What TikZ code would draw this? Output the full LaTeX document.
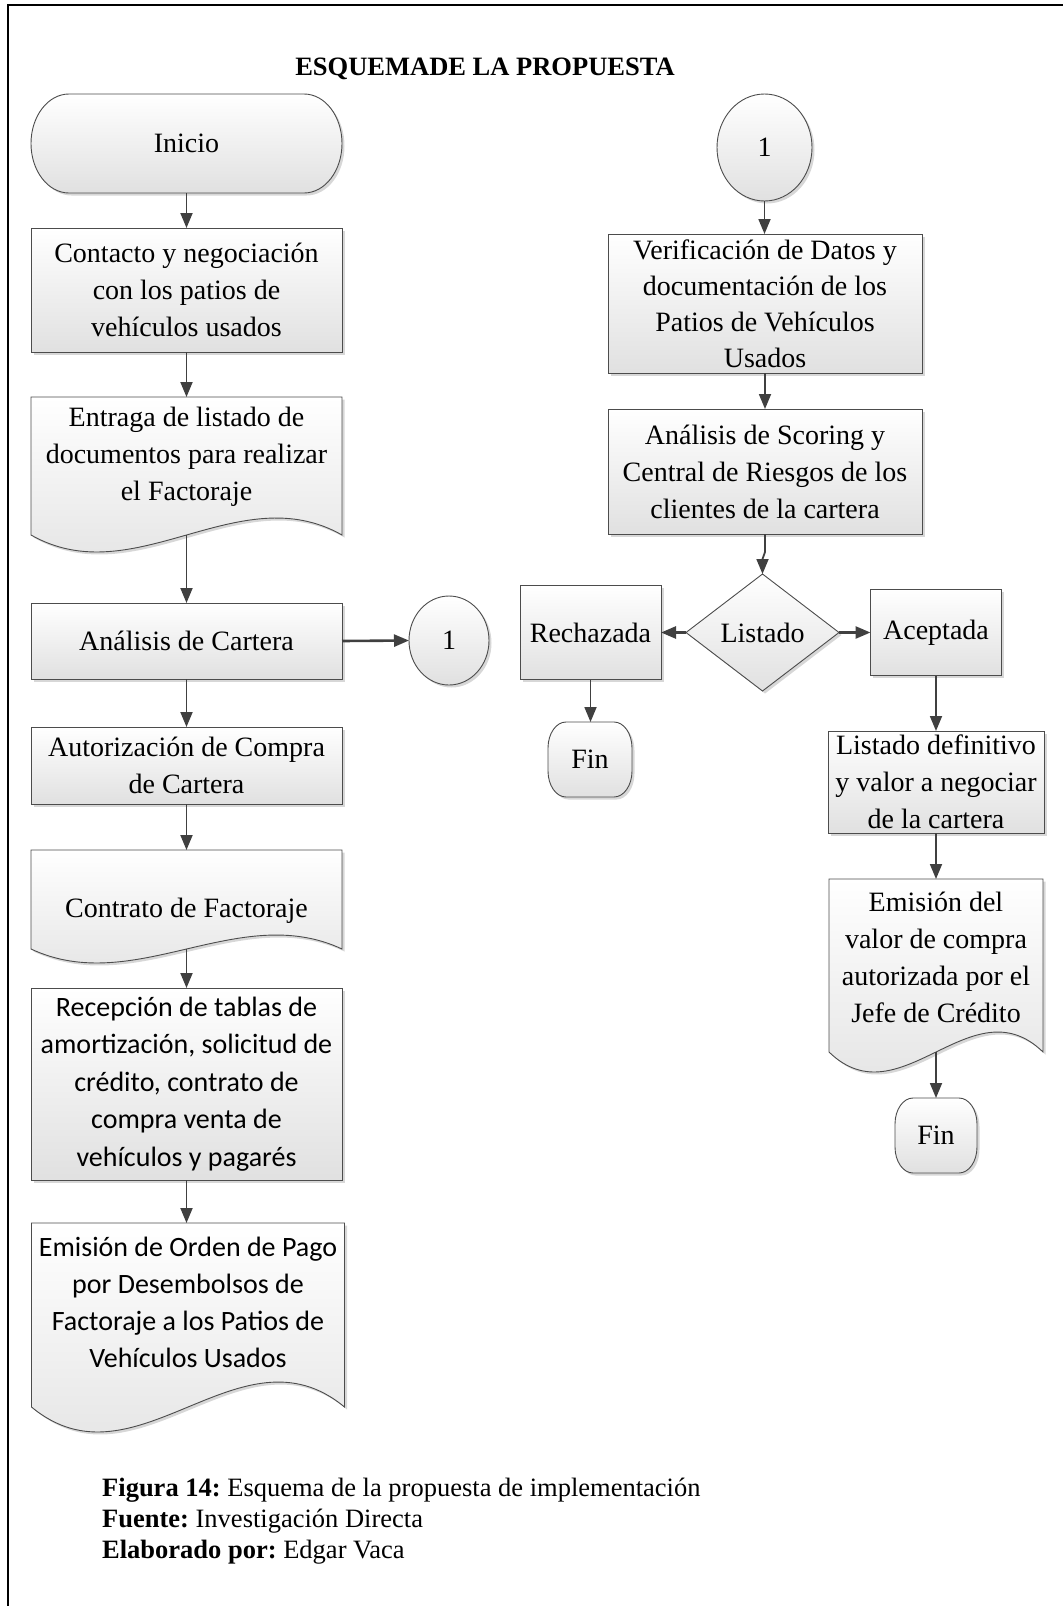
\documentclass[tikz,border=0pt]{standalone}
\usepackage{fontspec}
\setmainfont{Liberation Serif}
\newfontfamily\calfont{Carlito}
\usetikzlibrary{arrows.meta,shadows,calc,shapes.geometric}
\begin{document}
\begin{tikzpicture}[x=1pt,y=-1pt,
  shp/.style={draw=black!70, line width=0.9pt, top color=white, bottom color=black!12,
    drop shadow={shadow xshift=2.5pt, shadow yshift=-2.5pt, fill=black!35, opacity=0.45}},
  txt/.style={font=\fontsize{28}{37}\selectfont, align=center, inner sep=0pt, outer sep=0pt},
  caltxt/.style={font=\calfont\fontsize{28}{37.5}\selectfont},
  box/.style={shp, txt, rectangle},
  circ/.style={shp, txt, ellipse},
  hid/.style={txt, rectangle, draw=none},
  arr/.style={draw=black!75, line width=1.8pt, -{Triangle[length=15pt,width=12pt]}},
  arrb/.style={arr, line width=2.6pt},
  capf/.style={font=\frenchspacing\fontsize{26.5}{29}\selectfont, inner sep=0pt, anchor=base west}
]
\useasboundingbox (0,0) rectangle (1063,1606);
% frame
\draw[line width=2pt] (8,1606) -- (8,5) -- (1063,5);
% title
\node[font=\bfseries\fontsize{26.5}{30}\selectfont, inner sep=0pt, anchor=base] (title) at (485,75) {ESQUEMADE LA PROPUESTA};

% ---------- left column ----------
\path[shp] (69,94) -- (304,94) arc[start angle=-90,end angle=90,x radius=38,y radius=49.5]
  -- (69,193) arc[start angle=90,end angle=270,x radius=38,y radius=49.5] -- cycle;
\node[hid, minimum width=311pt, minimum height=99pt] (inicio) at (186.5,143.5) {Inicio};

\node[box, minimum width=311pt, minimum height=124pt] (contacto) at (186.5,290)
  {Contacto y negociación\\con los patios de\\vehículos usados};

\path[shp] (31,397) -- (342,397) -- (342,535) .. controls (238.3,476.2) and (134.7,593.8) .. (31,535) -- cycle;
\node[hid, minimum width=311pt, minimum height=119pt] (entrega) at (186.5,456.5)
  {Entraga de listado de\\documentos para realizar\\el Factoraje};

\node[box, minimum width=311pt, minimum height=76pt] (analisis) at (186.5,641) {Análisis de Cartera};

\node[circ, minimum width=80pt, minimum height=89pt] (c1l) at (449,640.5) {1};

\node[box, minimum width=311pt, minimum height=77pt] (autoriz) at (186.5,765.5)
  {Autorización de Compra\\de Cartera};

\path[shp] (31,850) -- (342,850) -- (342,949) .. controls (238.3,900.6) and (134.7,997.4) .. (31,949) -- cycle;
\node[hid, minimum width=311pt, minimum height=122pt] (contrato) at (186.5,911) {Contrato de Factoraje};

\node[box, caltxt, minimum width=311pt, minimum height=192pt] (recep) at (186.5,1084)
  {Recepción de tablas de\\amortización, solicitud de\\crédito, contrato de\\compra venta de\\vehículos y pagarés};

\path[shp] (31.5,1223) -- (344.5,1223) -- (344.5,1407) .. controls (240.2,1320.5) and (135.8,1493.5) .. (31.5,1407) -- cycle;
\node[hid, font=\calfont\fontsize{28}{37}\selectfont, minimum width=313pt, minimum height=159pt] (emision) at (188,1302.5)
  {Emisión de Orden de Pago\\por Desembolsos de\\Factoraje a los Patios de\\Vehículos Usados};

% ---------- right column ----------
\node[circ, minimum width=95pt, minimum height=107pt] (c1r) at (764.5,147.5) {1};

\node[box, font=\fontsize{28}{36}\selectfont, minimum width=314pt, minimum height=139pt] (verif) at (765,303.5)
  {Verificación de Datos y\\documentación de los\\Patios de Vehículos\\Usados};

\node[box, minimum width=314pt, minimum height=125pt] (scoring) at (765,471.5)
  {Análisis de Scoring y\\Central de Riesgos de los\\clientes de la cartera};

\path[shp] (762.5,574) -- (839,632.5) -- (762.5,691) -- (686,632.5) -- cycle;
\node[hid, minimum width=153pt, minimum height=117pt] (dia) at (762.5,632.5) {Listado};

\node[box, minimum width=141pt, minimum height=94pt] (rech) at (590.5,632.5) {Rechazada};
\node[box, minimum width=131pt, minimum height=86pt] (acept) at (936,632.5) {Aceptada};

\path[shp] (566,722) -- (614,722) arc[start angle=-90,end angle=0,x radius=18,y radius=26]
  -- (632,771) arc[start angle=0,end angle=90,x radius=18,y radius=26]
  -- (566,797) arc[start angle=90,end angle=180,x radius=18,y radius=26]
  -- (548,748) arc[start angle=180,end angle=270,x radius=18,y radius=26] -- cycle;
\node[hid, minimum width=84pt, minimum height=75pt] (fin1) at (590,759.5) {Fin};

\node[box, minimum width=216pt, minimum height=102pt] (listdef) at (936,782)
  {Listado definitivo\\y valor a negociar\\de la cartera};

\path[shp] (829,879) -- (1043,879) -- (1043,1052) .. controls (971.7,982.8) and (900.3,1121.2) .. (829,1052) -- cycle;
\node[hid, minimum width=214pt, minimum height=156pt] (emdel) at (936,957)
  {Emisión del\\valor de compra\\autorizada por el\\Jefe de Crédito};

\path[shp] (913,1098) -- (959,1098) arc[start angle=-90,end angle=0,x radius=18,y radius=26]
  -- (977,1147) arc[start angle=0,end angle=90,x radius=18,y radius=26]
  -- (913,1173) arc[start angle=90,end angle=180,x radius=18,y radius=26]
  -- (895,1124) arc[start angle=180,end angle=270,x radius=18,y radius=26] -- cycle;
\node[hid, minimum width=82pt, minimum height=75pt] (fin2) at (936,1135.5) {Fin};

% ---------- connectors ----------
\draw[arr] (inicio.south) -- (contacto.north);
\draw[arr] (contacto.south) -- (entrega.north);
\draw[arr] ([yshift=-19pt]entrega.south) -- (analisis.north);
\draw[arrb] (analisis.east) -- (c1l.west);
\draw[arr] (analisis.south) -- (autoriz.north);
\draw[arr] (autoriz.south) -- (contrato.north);
\draw[arr] ([yshift=23pt]contrato.south) -- (recep.north);
\draw[arr] (recep.south) -- (recep.south |- emision.north);

\draw[arr] (c1r.south) -- (c1r.south |- verif.north);
\draw[arr] (verif.south) -- (scoring.north);
\draw[arr] (scoring.south) -- ++(0,18) -- ($(dia.north)+(0,-15)$) -- (dia.north);
\draw[arrb] (dia.west) -- (rech.east);
\draw[arrb] (dia.east) -- (acept.west);
\draw[arr] (rech.south) -- (rech.south |- fin1.north);
\draw[arr] (acept.south) -- (listdef.north);
\draw[arr] (listdef.south) -- (emdel.north);
\draw[arr] ([yshift=-17pt]emdel.south) -- (fin2.north);

% ---------- caption ----------
\node[capf] (cap1) at (102,1496) {\textbf{Figura 14:} Esquema de la propuesta de implementación};
\node[capf] (cap2) at (102,1527) {\textbf{Fuente:} Investigación Directa};
\node[capf] (cap3) at (102,1558) {\textbf{Elaborado por:} Edgar Vaca};
\end{tikzpicture}
\end{document}
